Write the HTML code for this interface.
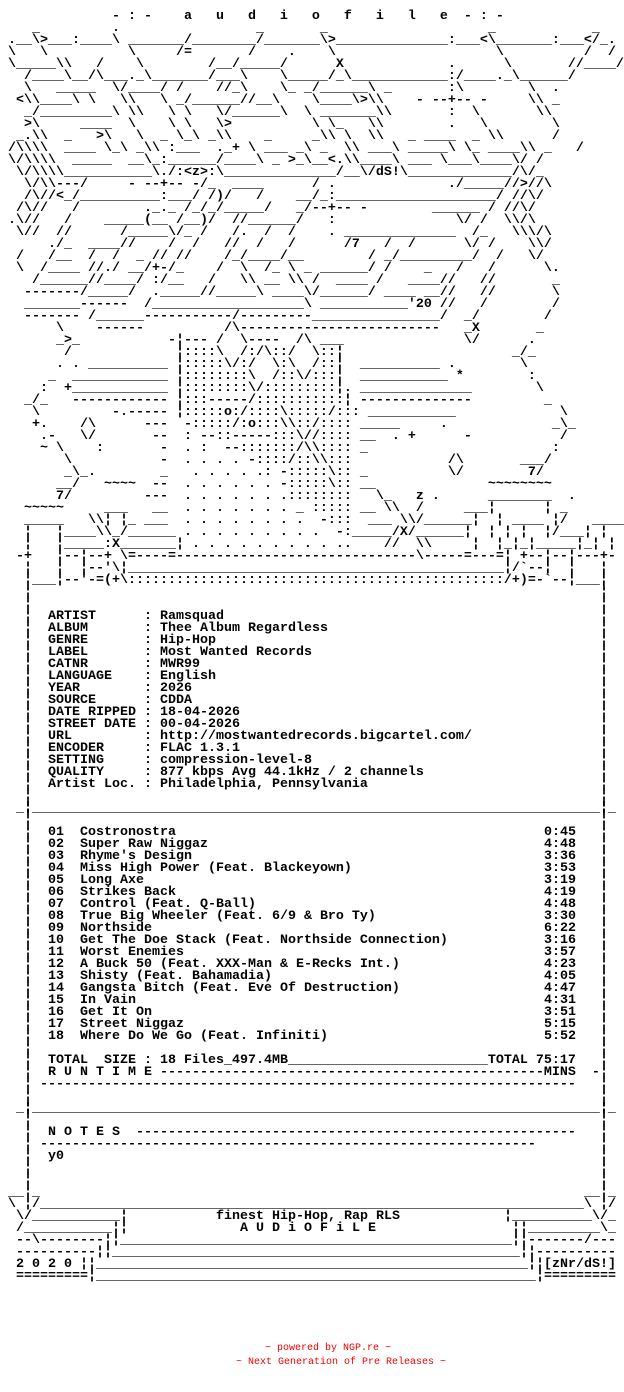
<!DOCTYPE html>
<html><head><meta charset="utf-8"><style>
html,body{margin:0;padding:0;background:#fff;}
body{width:624px;height:1392px;position:relative;overflow:hidden;}
pre,.s{position:absolute;margin:0;font-family:"Liberation Mono",monospace;font-weight:bold;font-size:13.333px;line-height:12px;color:#000;white-space:pre;}
.r{position:absolute;margin:0;font-family:"Liberation Mono",monospace;font-size:10px;line-height:12px;color:#e00;white-space:pre;}
</style></head><body>
<pre style="left:0;top:11px">              - : -    a   u   d   i   o   f   i   l   e  - : -
    _         .                 _       _                    _            _
 .__\&gt;___:____\ _______/________/_______\&gt;______________:___&lt;\_______:___&lt;/_.
 \   \          \     /=       /    .    \                    \          /  /
 \_____\\   /    \        /__/_____/      X             .      \       //____/
   /____\__/\___._\_______/___\    \_____/_\____________:/____._\______/
   \   _____  \/____/ /    //_\    \_ _/______\ _       :\        \  .
  &lt;\\____\ \   \\   \ _/______//__\    \____\&gt;\\    - --+-- -     \\ _
   _/_________\ \\   \ \   \/______\  \ _______\\       :  \       \\
   &gt;\     ____  \    \ \   \&gt;          \ \_   \\        .   \        \
  _.\\  _   &gt;\   \  _ \_\ _\\    _     _\\ \  \\   _ ____  _ \\      /
 /\\\\  ____ \_\ _\\ :___  ._+ \ ___ _\ _  \\ ___\ _____\ \_ ____\\ _   /
 \/\\\\  _____  __\_:______/____\ _ &gt;_\__&lt;.\\____\ ___ \___\____\/ /
  \/\\\\___________\./:&lt;z&gt;:\______________/__\/dS!\_____________/\/_
   \/\\---/     - --+-- -/_  ____      / .              ./_____//&gt;//\
   /\//&lt;_/__________:___/ /)/   /    __/_:____________________/ //\/
  /\//   /        ._._ /_/_/_____/   _/--+-- -        ______ / //\/
 .\//   /    _____(__ /__)/  //______/   :               \/ /  \\/\
  \//  //      /_____\/_ /   /.  /  /    . ______________  /_   \\\/\
      ./_  ____//    /  /   //  /   /      /7   /  /      \/ /    \\/
  /   /__  /  /  _ // //    /_/____/__        / _/_________/  /   \/
  \  /____ //./ __/+-/_    /  \  /_ \ _ ______/ /    _   /   /      \.
    /______//____/ :/__   /   \\ __ \\ /  ____ /   ____//   //       _
   -------/_____/  ._____//_____\ ____\/______/ ____ __//   //       \
   _______------  /___________________\ ___________'20 //   /        /
   ------- /______-----------/---------________________/  _/        /
       \    ------          /\-------------------------   _X       _
       _&gt;_           -¦--- /  \----  /\ ___               \/      .
        /             ¦::::\  /:/\::/  \::¦                     _/_
       . . __________ ¦:::::\/:/  \:\  /::¦  __________ .        \
      _  ____________ ¦::::::::\  /::\/:::¦  ___________ *        :
     :  +____________ ¦::::::::\/:::::::::¦. ______________        \
   _/_   ------------ ¦:::-----/:::::::::::¦ --------------         _
    \         -.----- ¦:::::o:/::::\:::::/::: ___________             \
    +.    /\      ---  -:::::/:o:::\\::/:::: _____     .             _\_
     .-   \/       --  : --::-----:::\//:::: __  . +      -           /
     ~ \    :       -  . :  --:::::::/\\:::: _                       :
        \           -  . . . . -::::/::\\:::            /\       ___/
        _\_.        _   . . . . .: -:::::\:: _          \/        7/
       __/   ~~~~  --  . . . . . . -:::::\:: __              ~~~~~~~~
       7/         ---  . . . . . . .::::::::   \_   z .      ________  .
   ~~~~~     ___   __  . . . . . . . _ ::::: __ \\  /     ___¦      ¦ _
   _____   \\¦ ¦_ ___  . . . . . . . .  -:::  ___ \\/______¦  ¦ ____ ¦/   ____
   ¦   ¦____\\_/______ . . . . . . . . .  -:_____/X/______¦  ¦ ¦ ¦  ¦/___¦ ¦
   ¦   ¦_____:X_______¦ . . . . . . . . . ..    //  \\     ¦  ¦_¦_¦_____¦_¦ ¦
  -+   ¦--¦--+ \=----=------------------------------\-----=---=¦ +--¦--¦---+-
   ¦   ¦  ¦--'\¦_______________________________________________¦/`--¦  ¦   ¦
   ¦___¦--'-=(+\:::::::::::::::::::::::::::::::::::::::::::::::/+)=-`--¦___¦</pre>
<pre style="left:24px;top:587px">¦
¦
¦
¦
¦
¦
¦
¦
¦
¦
¦
¦
¦
¦
¦
¦
¦
¦
¦
¦
¦
¦
¦
¦
¦
¦
¦
¦
¦
¦
¦
¦
¦
¦
¦
¦
¦
¦
¦
¦
¦
¦
¦
¦
¦
¦
¦
¦
¦
¦</pre>
<pre style="left:600px;top:587px">¦
¦
¦
¦
¦
¦
¦
¦
¦
¦
¦
¦
¦
¦
¦
¦
¦
¦
¦
¦
¦
¦
¦
¦
¦
¦
¦
¦
¦
¦
¦
¦
¦
¦
¦
¦
¦
¦
¦
¦
¦
¦
¦
¦
¦
¦
¦
¦
¦
¦</pre>
<pre style="left:48px;top:611px">ARTIST      : Ramsquad
ALBUM       : Thee Album Regardless
GENRE       : Hip-Hop
LABEL       : Most Wanted Records
CATNR       : MWR99
LANGUAGE    : English
YEAR        : 2026
SOURCE      : CDDA
DATE RIPPED : 18-04-2026
STREET DATE : 00-04-2026
URL         : http://mostwantedrecords.bigcartel.com/
ENCODER     : FLAC 1.3.1
SETTING     : compression-level-8
QUALITY     : 877 kbps Avg 44.1kHz / 2 channels
Artist Loc. : Philadelphia, Pennsylvania</pre>
<pre style="left:16px;top:803px">_¦_______________________________________________________________________¦_</pre>
<pre style="left:48px;top:827px">01  Costronostra
02  Super Raw Niggaz
03  Rhyme's Design
04  Miss High Power (Feat. Blackeyown)
05  Long Axe
06  Strikes Back
07  Control (Feat. Q-Ball)
08  True Big Wheeler (Feat. 6/9 &amp; Bro Ty)
09  Northside
10  Get The Doe Stack (Feat. Northside Connection)
11  Worst Enemies
12  A Buck 50 (Feat. XXX-Man &amp; E-Recks Int.)
13  Shisty (Feat. Bahamadia)
14  Gangsta Bitch (Feat. Eve Of Destruction)
15  In Vain
16  Get It On
17  Street Niggaz
18  Where Do We Go (Feat. Infiniti)</pre>
<pre style="left:544px;top:827px">0:45
4:48
3:36
3:53
3:19
4:19
4:48
3:30
6:22
3:16
3:57
4:23
4:05
4:47
4:31
3:51
5:15
5:52</pre>
<pre style="left:48px;top:1055px">TOTAL  SIZE : 18 Files_497.4MB_________________________TOTAL 75:17
R U N T I M E ------------------------------------------------MINS  -</pre>
<pre style="left:40px;top:1079px">-------------------------------------------------------------------</pre>
<pre style="left:16px;top:1103px">_¦_______________________________________________________________________¦_</pre>
<pre style="left:48px;top:1127px">N O T E S  -------------------------------------------------------</pre>
<pre style="left:40px;top:1139px">--------------------------------------------------------------</pre>
<pre style="left:48px;top:1151px">y0</pre>
<pre style="left:8px;top:1187px">__¦_</pre><pre style="left:584px;top:1187px">__¦_</pre>
<pre style="left:8px;top:1199px">\ ¦/</pre><pre style="left:40px;top:1199px">____________________________________________________________________</pre><pre style="left:584px;top:1199px">\ ¦/</pre>
<pre style="left:16px;top:1211px">\/</pre><pre style="left:32px;top:1211px">___________</pre><pre style="left:120px;top:1211px">¦</pre><pre style="left:216px;top:1211px">finest Hip-Hop, Rap RLS</pre><pre style="left:504px;top:1211px">¦</pre><pre style="left:512px;top:1211px">__________</pre><pre style="left:592px;top:1211px">\/_</pre>
<pre style="left:16px;top:1223px">/</pre><pre style="left:24px;top:1223px">___________</pre><pre style="left:112px;top:1223px">¦¦</pre><pre style="left:240px;top:1223px">A U D i O F i L E</pre><pre style="left:512px;top:1223px">¦¦</pre><pre style="left:528px;top:1223px">_________</pre><pre style="left:600px;top:1223px">\_</pre>
<pre style="left:16px;top:1235px">--\--------¦¦</pre><pre style="left:120px;top:1235px">_________________________________________________</pre><pre style="left:512px;top:1235px">¦¦-------/---</pre>
<pre style="left:16px;top:1247px">----------¦¦</pre><pre style="left:112px;top:1247px">___________________________________________________</pre><pre style="left:520px;top:1247px">¦¦----------</pre>
<pre style="left:16px;top:1259px">2 0 2 0 ¦¦</pre><pre style="left:96px;top:1259px">______________________________________________________</pre><pre style="left:528px;top:1259px">¦¦[zNr/dS!]</pre>
<pre style="left:16px;top:1271px">=========¦</pre><pre style="left:96px;top:1271px">_______________________________________________________</pre><pre style="left:536px;top:1271px">¦=========</pre>
<div class="r" style="left:265px;top:1343px">~ powered by NGP.re ~</div>
<div class="r" style="left:236px;top:1357px">~ Next Generation of Pre Releases ~</div>
</body></html>
